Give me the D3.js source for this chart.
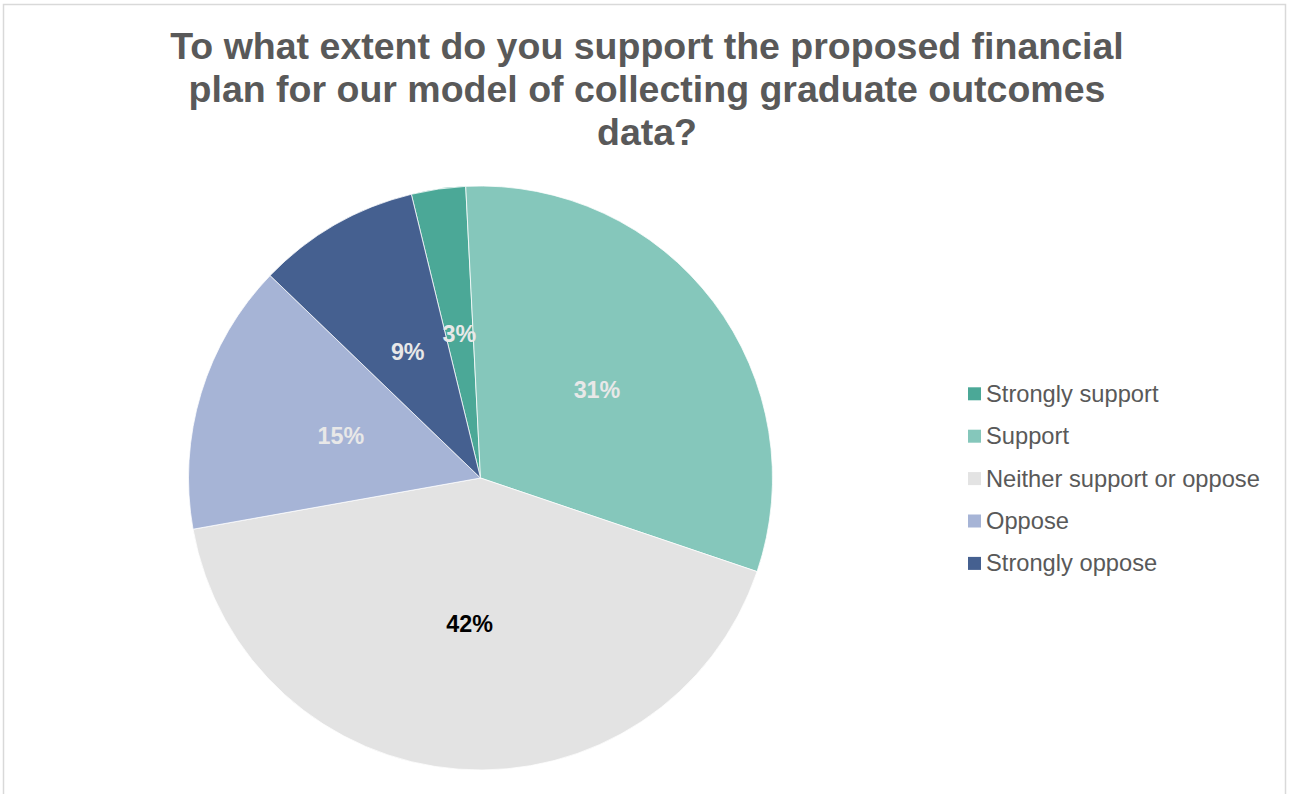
<!DOCTYPE html>
<html>
<head>
<meta charset="utf-8">
<script src="https://cdn.jsdelivr.net/npm/d3@7"></script>
<style>
  html, body { margin: 0; padding: 0; background: #fff; }
  svg { display: block; }
</style>
</head>
<body>
<svg id="chart" width="1290" height="794"></svg>
<script>
// Survey responses (percent of respondents)
const categories = ["Strongly support", "Support", "Neither support or oppose", "Oppose", "Strongly oppose"];
const values = [3, 31, 42, 15, 9];
const colors = ["#4ba897", "#85c7bb", "#e3e3e3", "#a6b4d6", "#456090"];
const labelColors = ["#e8e8e8", "#e8e8e8", "#000000", "#e8e8e8", "#e8e8e8"];
const titleLines = [
  "To what extent do you support the proposed financial",
  "plan for our model of collecting graduate outcomes",
  "data?"
];

const svg = d3.select("#chart");
const font = "'Liberation Sans', Arial, sans-serif";

// chart area border
svg.append("rect")
  .attr("x", 3.5).attr("y", 4.5)
  .attr("width", 1282).attr("height", 800)
  .attr("fill", "#fff")
  .attr("stroke", "#d9d9d9")
  .attr("stroke-width", 1.5);

// title
svg.append("g").selectAll("text")
  .data(titleLines)
  .join("text")
  .attr("x", 647)
  .attr("y", (d, i) => 59 + i * 43)
  .attr("text-anchor", "middle")
  .attr("font-family", font)
  .attr("font-weight", "bold")
  .attr("font-size", "37.5px")
  .attr("fill", "#595959")
  .text(d => d);

// pie
const cx = 480.5, cy = 478, R = 292;
const data = categories.map((c, i) => ({ name: c, value: values[i], color: colors[i], label: labelColors[i] }));
const startAngle = -13.7 * Math.PI / 180;
const pie = d3.pie().value(d => d.value).sort(null)
  .startAngle(startAngle).endAngle(startAngle + 2 * Math.PI);
const arcs = pie(data);
const arc = d3.arc().innerRadius(0).outerRadius(R);

const g = svg.append("g").attr("transform", `translate(${cx},${cy})`);
g.selectAll("path")
  .data(arcs)
  .join("path")
  .attr("d", arc)
  .attr("fill", d => d.data.color)
  .attr("stroke", "#ffffff")
  .attr("stroke-width", 0.75);

g.selectAll("text")
  .data(arcs)
  .join("text")
  .attr("transform", d => `translate(${arc.centroid(d)})`)
  .attr("text-anchor", "middle")
  .attr("dy", "0.35em")
  .attr("font-family", font)
  .attr("font-weight", "bold")
  .attr("font-size", "23.3px")
  .attr("fill", d => d.data.label)
  .text(d => d.data.value + "%");

// legend
const legend = svg.append("g");
const rows = legend.selectAll("g")
  .data(data)
  .join("g")
  .attr("transform", (d, i) => `translate(968,${401.7 + i * 42.4})`);
rows.append("rect")
  .attr("x", 0).attr("y", -14.4)
  .attr("width", 13).attr("height", 13)
  .attr("fill", d => d.color);
rows.append("text")
  .attr("x", 18).attr("y", 0)
  .attr("font-family", font)
  .attr("font-size", "23.7px")
  .attr("fill", "#595959")
  .text(d => d.name);
</script>
</body>
</html>
